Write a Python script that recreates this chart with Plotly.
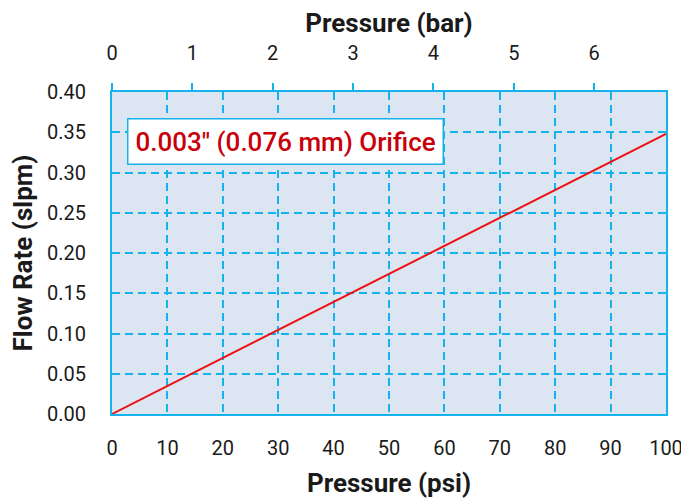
import plotly.graph_objects as go

psi = [0, 100]
flow = [0.0, 0.348]
psi_ticks = [0, 10, 20, 30, 40, 50, 60, 70, 80, 90, 100]
bar_ticks = [0, 1, 2, 3, 4, 5, 6]
flow_ticks = [0.00, 0.05, 0.10, 0.15, 0.20, 0.25, 0.30, 0.35, 0.40]
PSI_PER_BAR = 14.5038

CYAN = "#16b2ec"
FONT = "Roboto"

fig = go.Figure()
fig.add_trace(go.Scatter(x=psi, y=flow, mode="lines",
                         line=dict(color="#ee1111", width=2), showlegend=False,
                         hoverinfo="skip"))
fig.add_trace(go.Scatter(x=[0, psi[-1] / PSI_PER_BAR], y=[None, None], xaxis="x2",
                         mode="lines", showlegend=False, hoverinfo="skip"))

fig.update_layout(
    width=681, height=494,
    margin=dict(l=104, r=23, t=84, b=88),
    paper_bgcolor="white",
    plot_bgcolor="#dce6f2",
    font=dict(family=FONT, size=20, color="#1a1a1a"),
    xaxis=dict(range=[0, 100], tickvals=psi_ticks, showgrid=True, automargin=False,
               gridcolor=CYAN, griddash="8px,5px", gridwidth=1.5,
               showline=True, linecolor=CYAN, linewidth=2, mirror=True,
               zeroline=False, ticks="", ticklabelstandoff=15,
               title=dict(text="<b>Pressure (psi)</b>", font=dict(size=26), standoff=15)),
    xaxis2=dict(range=[0, psi[-1] / PSI_PER_BAR], overlaying="x", side="top",
                automargin=False,
                tickvals=bar_ticks, showgrid=False, zeroline=False,
                ticks="outside", ticklen=8, tickwidth=2, tickcolor=CYAN,
                showline=False, ticklabelstandoff=15,
                title=dict(text="<b>Pressure (bar)</b>", font=dict(size=26), standoff=6)),
    yaxis=dict(range=[0, 0.40], tickvals=flow_ticks, tickformat=".2f", automargin=False,
               showgrid=True, gridcolor=CYAN, griddash="8px,5px", gridwidth=1.5,
               showline=True, linecolor=CYAN, linewidth=2, mirror=True,
               zeroline=False, ticks="", ticklabelstandoff=20,
               title=dict(text="<b>Flow Rate (slpm)</b>", font=dict(size=26), standoff=8)),
    annotations=[dict(text="0.003\" (0.076 mm) Orifice", xref="paper", yref="paper",
                      x=0.027, y=0.92, xanchor="left", yanchor="top", showarrow=False,
                      font=dict(size=26, color="#c8000a", family=FONT, weight=500),
                      bgcolor="white", bordercolor=CYAN, borderwidth=1.5, borderpad=7)],
)

fig.write_html("out.html")
